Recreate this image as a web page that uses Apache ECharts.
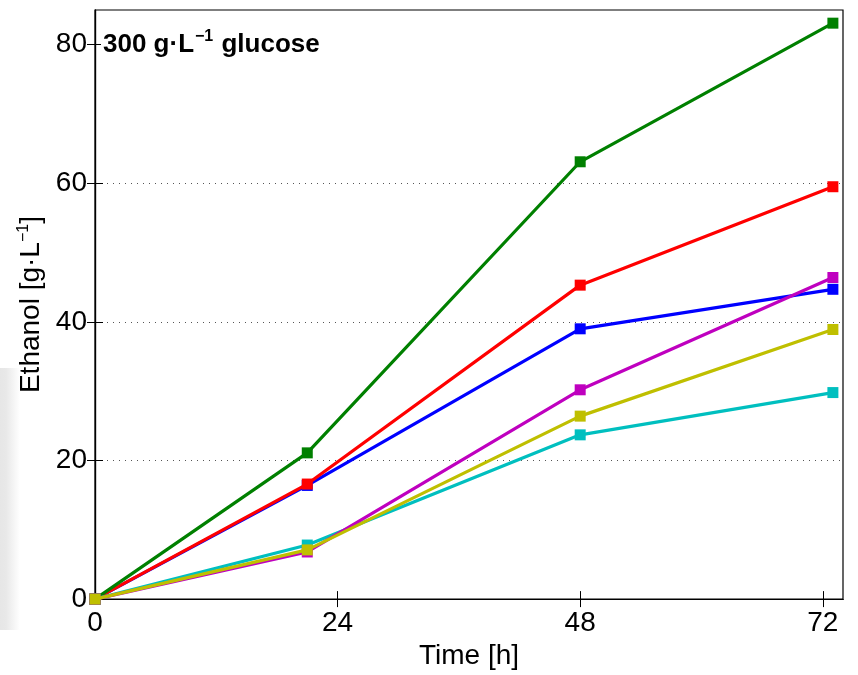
<!DOCTYPE html>
<html>
<head>
<meta charset="utf-8">
<script src="https://cdn.jsdelivr.net/npm/echarts@6/dist/echarts.min.js"></script>
<style>html,body{margin:0;padding:0;background:#fff}#c{width:858px;height:675px}</style>
</head>
<body>
<div id="c"></div>
<script>
const times = [0, 21, 48, 73];
const xTicks = [0, 24, 48, 72];
const yTicks = [0, 20, 40, 60, 80];
const blueVals = [0, 16.4, 39.0, 44.7];
const redVals = [0, 16.6, 45.3, 59.5];
const greenVals = [0, 21.1, 63.1, 83.1];
const cyanVals = [0, 7.8, 23.7, 29.8];
const magentaVals = [0, 6.8, 30.2, 46.4];
const yellowVals = [0, 7.1, 26.4, 38.9];
const seriesNames = ['blue', 'red', 'green', 'cyan', 'magenta', 'yellow'];
const seriesColors = ['#0000FF', '#FF0000', '#008000', '#00BFBF', '#BF00BF', '#BFBF00'];
const seriesVals = [blueVals, redVals, greenVals, cyanVals, magentaVals, yellowVals];

const chart = echarts.init(document.getElementById('c'), null, {renderer: 'canvas'});
const font = 'Liberation Sans, Arial, Helvetica, sans-serif';

const series = seriesVals.map((vals, i) => ({
  name: seriesNames[i],
  type: 'line',
  data: times.map((t, j) => [t, vals[j]]),
  symbol: 'rect',
  symbolSize: 11,
  lineStyle: {color: seriesColors[i], width: 3.2},
  itemStyle: {color: seriesColors[i]},
  z: 3 + i,
  animation: false
}));

const tickStyle = {show: true, inside: true, length: 8, lineStyle: {color: '#000', width: 1}};

chart.setOption({
  animation: false,
  backgroundColor: '#fff',
  graphic: [{
    type: 'rect',
    shape: {x: 0, y: 368, width: 20, height: 262},
    style: {fill: new echarts.graphic.LinearGradient(0, 0, 1, 0, [
      {offset: 0, color: 'rgba(210,210,210,0.55)'},
      {offset: 0.3, color: 'rgba(210,210,210,0.5)'},
      {offset: 1, color: 'rgba(210,210,210,0)'}
    ])},
    z: -10, silent: true
  }],
  title: {
    text: '{b|300 g·L}{s|−1}{b| glucose}',
    left: 101, top: 27,
    backgroundColor: '#fff',
    padding: [2, 2, 2, 2],
    textStyle: {
      rich: {
        b: {fontFamily: font, fontWeight: 'bold', fontSize: 26, color: '#000'},
        s: {fontFamily: font, fontWeight: 'bold', fontSize: 16, color: '#000', verticalAlign: 'top', padding: [0, 1, 15, 1]}
      }
    },
    z: 20
  },
  grid: {left: 95, right: 15, top: 10, bottom: 75, show: true, borderColor: '#000', borderWidth: 1.2, backgroundColor: 'transparent'},
  xAxis: [{
    type: 'value', min: 0, max: 74,
    name: 'Time [h]', nameLocation: 'middle', nameGap: 42,
    nameTextStyle: {fontFamily: font, fontSize: 28, color: '#000'},
    axisLine: {show: true, onZero: false, lineStyle: {color: '#000', width: 1.2}},
    axisTick: Object.assign({customValues: xTicks}, tickStyle),
    axisLabel: {fontFamily: font, fontSize: 28, color: '#000', margin: 10, customValues: xTicks},
    splitLine: {show: false}
  }, {
    type: 'value', min: 0, max: 74, position: 'top',
    axisLine: {show: true, lineStyle: {color: '#000', width: 1.2}},
    axisTick: Object.assign({customValues: xTicks.slice(1)}, tickStyle),
    axisLabel: {show: false},
    splitLine: {show: false}
  }],
  yAxis: [{
    type: 'value', min: 0, max: 85, interval: 20,
    name: '{n|Ethanol [g·L}{s|−1}{n|]}', nameLocation: 'middle', nameGap: 46, nameRotate: 90,
    nameTextStyle: {
      rich: {
        n: {fontFamily: font, fontSize: 28, color: '#000'},
        s: {fontFamily: font, fontSize: 16, color: '#000', verticalAlign: 'top', padding: [0, 0, 14, 0]}
      }
    },
    axisLine: {show: true, onZero: false, lineStyle: {color: '#000', width: 1.2}},
    axisTick: Object.assign({customValues: yTicks.slice(1)}, tickStyle),
    axisLabel: {fontFamily: font, fontSize: 28, color: '#000', margin: 8, customValues: yTicks},
    splitLine: {show: true, showMaxLine: false, lineStyle: {color: '#555', type: [1, 5], width: 1}}
  }, {
    type: 'value', min: 0, max: 85, interval: 20, position: 'right',
    axisLine: {show: true, lineStyle: {color: '#000', width: 1.2}},
    axisTick: Object.assign({customValues: yTicks.slice(1)}, tickStyle),
    axisLabel: {show: false},
    splitLine: {show: false}
  }],
  series: series
});
</script>
</body>
</html>
